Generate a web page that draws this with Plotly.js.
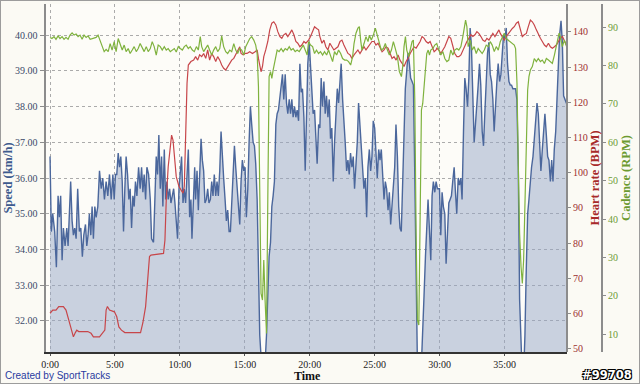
<!DOCTYPE html>
<html><head><meta charset="utf-8">
<script src="https://cdn.plot.ly/plotly-3.0.1.min.js"></script>
<style>
html,body{margin:0;padding:0;background:#fbfaf4;}
#wrap{width:640px;height:384px;box-sizing:border-box;border:1px solid #9c9c9c;background:#fbfaf4;overflow:hidden;}
#chart{width:638px;height:382px;}
</style></head>
<body><div id="wrap"><div id="chart"></div></div>
<script>
// ---- data (time in minutes) ----
const speedTime = [0.00,0.10,0.21,0.36,0.49,0.62,0.72,0.82,0.93,1.03,1.16,1.29,1.39,1.52,1.59,1.70,1.80,1.90,2.01,2.13,2.26,2.37,2.49,2.60,2.73,2.83,2.93,3.03,3.14,3.24,3.34,3.45,3.55,3.68,3.81,3.94,4.06,4.19,4.32,4.45,4.58,4.71,4.84,4.94,5.04,5.14,5.25,5.35,5.45,5.56,5.66,5.76,5.86,5.97,6.07,6.17,6.28,6.38,6.48,6.58,6.69,6.82,6.94,7.05,7.15,7.25,7.36,7.46,7.59,7.72,7.82,7.97,8.08,8.18,8.28,8.38,8.49,8.59,8.69,8.80,8.90,9.00,9.10,9.21,9.31,9.41,9.52,9.62,9.72,
9.82,9.93,10.03,10.13,10.24,10.34,10.44,10.55,10.65,10.75,10.85,10.93,11.03,11.14,11.21,11.32,11.42,11.52,11.63,11.73,11.83,11.93,12.04,12.14,12.24,12.35,12.45,12.55,12.65,12.76,12.86,12.96,13.07,13.17,13.27,13.37,13.48,13.58,13.68,13.79,13.89,13.99,14.09,14.20,14.30,14.40,14.51,14.61,14.71,14.81,14.92,15.02,15.12,15.23,15.33,15.43,15.53,15.64,15.74,15.84,15.95,16.05,16.15,16.25,16.36,16.46,16.56,16.67,16.77,16.87,16.98,17.08,17.18,17.28,17.39,17.49,17.59,17.70,17.80,17.90,18.00,18.11,18.21,18.31,18.42,18.52,18.62,18.72,18.83,18.93,19.03,19.14,19.24,19.34,19.44,19.55,19.65,19.75,
19.85,19.96,20.06,20.16,20.26,20.37,20.47,20.57,20.68,20.78,20.88,20.98,21.09,21.19,21.29,21.40,21.50,21.60,21.70,21.81,21.91,22.01,22.12,22.22,22.32,22.42,22.53,22.63,22.73,22.84,22.94,23.04,23.14,23.25,23.35,23.45,23.56,23.66,23.76,23.87,23.97,24.07,24.17,24.28,24.38,24.48,24.59,24.69,24.79,24.89,25.00,25.10,25.20,25.31,25.41,25.51,25.61,25.72,25.82,25.92,26.03,26.13,26.23,26.33,26.44,26.54,26.64,26.75,26.85,26.95,27.05,27.16,27.26,27.36,27.47,27.57,27.67,27.77,27.88,27.98,28.08,28.19,28.29,28.39,28.49,28.60,28.70,28.80,28.91,29.01,29.11,29.21,29.32,29.42,29.52,29.63,29.73,29.83,
29.99,30.09,30.19,30.29,30.40,30.50,30.60,30.71,30.81,30.91,31.01,31.12,31.22,31.32,31.43,31.53,31.63,31.73,31.84,31.94,32.04,32.15,32.25,32.35,32.45,32.56,32.66,32.76,32.87,32.97,33.07,33.17,33.28,33.38,33.48,33.59,33.69,33.79,33.90,34.00,34.10,34.20,34.31,34.41,34.51,34.62,34.72,34.82,34.92,35.03,35.13,35.23,35.34,35.44,35.54,35.64,35.75,35.85,35.95,36.06,36.16,36.26,36.36,36.47,36.57,36.67,36.78,36.88,36.98,37.08,37.19,37.29,37.39,37.50,37.60,37.70,37.80,37.91,38.01,38.11,38.22,38.32,38.42,38.53,38.63,38.73,38.83,38.94,39.04,39.14,39.24,39.35,39.45,39.55,39.66,39.76,39.86];
const speedKmh = [36.6,34.5,35.0,34.5,33.5,35.5,34.9,35.5,33.7,34.6,34.1,34.6,34.1,35.4,35.9,34.8,34.4,34.6,34.3,35.7,34.5,34.6,33.8,34.4,34.7,34.1,34.4,35.0,34.4,35.2,34.3,35.2,34.9,35.2,36.2,35.7,36.0,35.4,35.9,35.5,36.1,35.4,36.1,35.4,36.1,36.1,36.7,36.3,36.6,35.9,34.5,35.7,36.6,36.1,35.4,35.7,34.6,35.5,35.2,35.9,35.5,36.3,35.7,36.3,35.6,36.1,35.4,36.3,36.1,35.4,34.3,34.2,35.4,36.6,36.1,37.2,35.7,36.6,35.2,36.8,35.4,35.9,35.4,35.7,35.3,35.5,35.7,35.3,34.8,
34.3,35.7,36.3,36.6,35.3,35.7,35.3,36.3,36.8,34.9,35.4,34.3,35.4,36.3,35.4,36.2,35.1,36.1,37.1,36.5,36.2,35.3,35.4,35.7,35.3,35.4,35.9,35.5,36.1,35.5,35.9,35.5,36.2,37.3,36.5,36.0,35.4,34.8,35.1,34.5,34.5,35.4,36.2,36.9,36.3,35.7,35.2,34.7,35.9,36.5,36.2,36.3,34.9,35.7,37.0,38.0,37.5,37.0,36.9,36.4,35.4,33.5,31.6,31.0,30.5,30.5,30.8,31.6,32.8,33.8,34.2,35.2,35.5,35.9,37.5,37.8,37.9,38.3,38.7,38.9,38.2,38.9,38.1,37.8,38.2,37.8,38.2,37.7,38.0,37.7,37.9,37.6,39.2,38.4,38.5,37.7,36.2,38.3,
39.2,39.8,39.2,38.6,37.8,37.9,37.1,36.4,37.5,37.4,38.8,38.0,38.7,37.8,38.3,37.7,38.2,37.1,37.4,35.9,37.0,37.6,38.5,38.1,38.6,39.2,38.2,37.4,37.0,36.2,36.5,36.1,36.7,36.3,36.6,35.7,36.4,37.0,38.1,37.4,36.8,36.3,35.7,36.0,34.9,36.3,36.8,36.2,36.6,37.6,37.4,36.7,36.0,36.8,36.5,36.8,36.1,35.4,35.9,35.7,35.1,35.6,34.7,35.2,35.6,36.3,37.5,36.6,35.2,34.6,34.5,35.7,37.3,38.5,39.0,39.5,39.2,38.8,38.7,38.6,36.3,32.6,30.8,30.5,30.5,30.8,31.6,32.7,33.8,34.9,35.4,34.6,33.7,35.5,35.9,35.6,35.9,35.7,
35.7,34.4,35.6,35.2,35.0,33.6,34.4,35.3,35.4,35.5,35.9,36.3,35.6,35.0,36.0,35.8,36.0,35.4,37.3,38.8,38.5,38.0,38.8,40.2,39.7,38.5,37.0,37.5,38.0,38.6,39.2,38.6,37.3,36.9,37.8,38.6,39.5,39.8,38.9,38.7,38.2,37.3,38.3,38.7,39.2,38.7,38.9,39.5,40.0,39.9,40.2,39.2,38.7,38.6,38.6,38.5,38.5,38.5,38.2,36.3,32.6,30.8,30.5,30.5,31.6,33.4,35.0,35.4,36.0,36.3,36.6,37.1,37.6,38.1,37.8,37.1,36.2,36.8,37.2,37.8,37.2,36.6,36.5,35.9,36.5,35.9,36.8,37.3,38.2,39.1,40.0,40.4,39.8,38.3,38.2,38.1,38.1];

const hrTime = [0.00,0.21,0.46,0.67,1.03,1.23,1.44,1.65,1.80,1.95,2.06,2.21,2.91,3.16,3.34,3.81,4.01,4.22,4.32,4.42,4.58,4.96,5.14,5.30,5.50,5.76,6.97,7.15,7.36,7.51,7.66,7.77,8.44,8.74,8.85,8.95,9.10,9.26,9.36,9.47,9.57,9.72,
9.93,10.08,10.24,10.34,10.44,10.55,10.65,10.85,11.06,11.21,11.37,11.52,11.68,11.83,11.99,12.14,12.29,12.45,12.60,12.76,12.91,13.07,13.22,13.37,13.53,13.68,13.84,13.99,14.15,14.30,14.45,14.61,14.71,14.87,15.02,15.17,15.38,15.59,15.79,15.95,16.05,16.15,16.25,16.36,16.46,16.61,16.77,16.92,17.08,17.23,17.39,17.54,17.70,17.85,18.00,18.16,18.31,18.47,18.62,18.78,18.93,19.08,19.24,19.39,19.55,19.70,
19.91,20.06,20.22,20.37,20.53,20.68,20.78,20.94,21.09,21.24,21.40,21.55,21.71,21.86,22.02,22.17,22.33,22.48,22.63,22.79,22.94,23.10,23.25,23.41,23.56,23.71,23.87,24.02,24.18,24.33,24.49,24.64,24.79,24.95,25.10,25.26,25.41,25.57,25.72,25.87,26.03,26.18,26.34,26.49,26.65,26.80,26.95,27.11,27.26,27.42,27.57,27.73,27.88,28.03,28.19,28.34,28.50,28.65,28.81,28.96,29.12,29.27,29.42,29.58,29.73,
29.78,29.94,30.09,30.25,30.40,30.56,30.71,30.86,31.02,31.17,31.33,31.48,31.64,31.79,31.94,32.10,32.25,32.41,32.56,32.72,32.87,33.02,33.18,33.33,33.49,33.64,33.80,33.95,34.10,34.26,34.41,34.57,34.67,34.83,34.98,35.13,35.29,35.44,35.60,35.75,35.91,36.06,36.21,36.37,36.52,36.68,36.83,36.99,37.14,37.29,37.45,37.60,37.76,37.91,38.07,38.22,38.38,38.53,38.68,38.84,38.99,39.15,39.30,39.46,39.61,39.76];
const hrBpm = [60.1,61.0,61.0,62.0,62.0,61.0,58.2,55.3,53.4,54.6,55.3,54.9,54.9,54.4,53.4,53.4,54.4,55.3,61.0,62.0,61.0,60.5,59.1,56.2,55.3,54.6,54.6,57.4,62.0,68.6,76.2,76.6,76.8,77.1,80.9,92.3,101.7,108.4,110.7,109.3,104.6,98.9,
96.1,95.1,94.2,96.1,111.2,125.4,130.6,131.6,132.0,133.0,132.0,133.5,133.0,133.9,132.5,134.9,132.0,133.9,133.0,131.6,133.0,132.0,130.6,129.7,129.2,130.2,131.1,132.0,132.5,133.5,134.9,135.8,133.9,133.5,133.9,133.9,134.4,133.9,134.4,134.9,132.5,130.2,128.7,130.2,133.0,134.9,137.3,140.6,142.5,142.9,142.0,140.1,138.7,138.2,139.2,139.6,138.7,139.6,140.6,139.2,137.3,136.8,135.8,136.3,137.3,136.8,
137.7,138.7,140.1,141.5,141.0,140.6,138.7,136.8,137.7,135.8,134.9,136.8,135.8,134.9,135.4,135.8,137.3,137.7,136.3,134.9,133.9,133.5,132.5,133.5,134.4,134.9,133.9,134.9,135.8,134.9,135.8,136.8,137.3,137.3,136.3,136.8,135.4,134.4,134.9,135.8,135.4,133.9,132.5,133.0,132.0,133.5,132.0,131.1,130.2,131.6,132.5,133.9,134.9,135.8,135.4,136.3,137.3,138.7,138.2,137.3,136.8,137.3,135.8,134.4,134.9,
135.4,134.9,133.9,134.9,135.8,137.3,138.7,138.2,136.3,133.9,133.0,133.0,133.5,134.9,135.8,137.3,138.2,139.2,138.7,139.2,140.1,139.6,138.7,137.7,137.3,138.2,137.7,138.7,139.6,138.7,139.6,140.6,139.6,138.7,137.7,138.7,139.6,140.1,141.0,141.5,142.5,142.9,140.6,138.7,139.2,139.6,141.5,143.4,142.9,142.0,140.6,139.2,138.2,137.3,136.3,135.8,136.8,135.8,135.4,135.8,136.3,137.3,138.2,138.7,137.7,136.3];

const cadTime = [0.00,0.15,0.31,0.46,0.62,0.77,0.93,1.08,1.23,1.39,1.54,1.70,1.85,2.01,2.16,2.31,2.47,2.62,2.78,2.93,3.09,3.24,3.40,3.55,3.70,3.86,4.01,4.17,4.32,4.48,4.63,4.78,4.94,5.09,5.25,5.40,5.56,5.71,5.86,6.02,6.17,6.33,6.48,6.64,6.79,6.94,7.10,7.25,7.41,7.56,7.72,7.87,8.02,8.18,8.33,8.49,8.64,8.80,8.95,9.10,9.26,9.41,9.57,9.72,
9.88,10.03,10.19,10.34,10.49,10.65,10.80,10.96,11.11,11.27,11.42,11.57,11.68,11.83,11.99,12.14,12.29,12.45,12.60,12.76,12.91,13.07,13.22,13.37,13.53,13.68,13.84,13.99,14.15,14.30,14.45,14.61,14.76,14.92,15.07,15.23,15.38,15.53,15.69,15.84,15.95,16.05,16.15,16.25,16.36,16.46,16.56,16.67,16.77,16.87,16.98,17.08,17.18,17.28,17.39,17.49,17.64,17.80,17.95,18.11,18.26,18.42,18.57,18.72,18.88,19.03,19.19,19.34,19.50,19.65,19.80,
19.91,20.06,20.22,20.37,20.52,20.68,20.83,20.99,21.14,21.30,21.45,21.60,21.76,21.91,22.07,22.22,22.38,22.53,22.69,22.84,22.99,23.15,23.30,23.41,23.56,23.71,23.82,23.92,24.02,24.18,24.33,24.49,24.59,24.74,24.90,25.05,25.21,25.36,25.51,25.67,25.82,25.98,26.13,26.29,26.44,26.59,26.75,26.90,27.06,27.16,27.26,27.37,27.47,27.62,27.78,27.88,27.98,28.09,28.19,28.29,28.40,28.50,28.60,28.70,28.81,28.91,29.01,29.12,29.22,29.32,29.48,29.63,29.78,
29.94,30.09,30.25,30.40,30.56,30.71,30.86,31.02,31.17,31.33,31.48,31.64,31.79,31.89,32.00,32.10,32.20,32.36,32.51,32.66,32.82,32.97,33.13,33.28,33.44,33.59,33.75,33.90,34.05,34.21,34.36,34.52,34.67,34.83,34.98,35.13,35.29,35.44,35.60,35.75,35.85,35.96,36.06,36.16,36.27,36.37,36.47,36.57,36.68,36.78,36.88,36.99,37.14,37.29,37.45,37.60,37.76,37.91,38.07,38.22,38.38,38.53,38.68,38.84,38.99,39.09,39.20,39.30,39.45,39.61,39.76,39.87];
const cadRpm = [87.3,87.0,87.5,86.8,87.7,87.0,87.5,86.8,87.3,86.8,87.9,88.5,87.9,88.2,87.5,87.9,86.8,87.9,87.3,87.7,86.8,87.0,87.3,87.3,87.9,86.6,84.9,83.6,84.2,83.6,85.7,84.0,86.2,83.6,87.0,85.7,84.0,85.3,83.6,84.4,83.1,84.0,84.9,83.6,84.4,85.7,84.4,83.6,84.9,83.6,84.4,86.2,84.9,82.7,85.3,84.9,84.0,84.9,84.0,84.4,83.6,84.0,84.4,83.5,
84.9,84.4,84.0,84.9,85.3,84.4,84.9,84.0,83.6,84.9,84.0,87.5,84.9,83.6,84.4,85.3,84.0,82.7,84.0,84.9,83.6,84.4,87.7,84.9,83.6,83.1,84.0,83.6,85.7,84.0,83.1,84.4,84.0,82.7,84.9,86.2,87.0,87.5,86.6,85.3,83.1,74.5,45.0,20.6,18.9,29.3,18.9,10.2,45.0,77.1,78.4,76.6,78.8,80.5,83.1,84.0,83.6,84.4,83.6,84.4,84.0,84.9,84.0,84.4,83.6,84.0,83.6,84.4,85.3,84.0,82.7,
86.2,85.3,84.9,83.1,84.0,83.1,83.6,82.7,83.6,82.7,84.0,82.7,81.0,83.6,82.7,84.0,83.1,81.8,81.4,81.4,81.0,80.1,82.3,85.7,88.4,89.7,90.1,86.6,84.0,85.7,87.5,86.2,87.9,86.6,87.9,89.7,87.5,85.7,84.0,84.4,85.7,84.0,82.7,84.0,86.2,84.4,82.3,78.4,77.1,79.7,84.9,87.5,84.0,82.3,84.9,86.2,86.6,71.0,36.3,13.7,12.4,36.3,68.4,70.1,75.3,80.5,83.1,84.0,82.7,84.0,84.4,85.3,85.7,
84.0,82.7,83.6,81.8,81.0,81.4,84.0,82.7,84.0,84.4,84.0,84.9,87.5,90.1,91.8,90.1,84.9,86.6,84.0,84.9,83.1,84.4,83.6,83.1,84.0,85.3,84.9,86.2,85.3,83.6,84.9,84.0,86.2,87.5,88.4,87.0,86.6,86.2,85.7,85.3,84.4,75.3,53.6,36.3,27.6,23.2,29.3,45.0,62.3,73.6,77.1,78.8,79.7,81.8,81.0,81.8,81.0,81.4,80.5,81.8,81.4,81.0,80.5,82.7,84.9,86.6,88.4,87.5,84.9,86.6,84.9,84.0];

const timeTicks = [0,5,10,15,20,25,30,35];
const timeLabels = ['0:00','5:00','10:00','15:00','20:00','25:00','30:00','35:00'];
const speedTicks = [32,33,34,35,36,37,38,39,40];
const hrTicks = [50,60,70,80,90,100,110,120,130,140];
const cadTicks = [10,20,30,40,50,60,70,80,90];

// ---- layout geometry ----
const W = 638, H = 382;
const M = {l:45, r:37, t:3, b:31};
const plotW = W - M.l - M.r, plotH = H - M.t - M.b;
const xEnd = 521 / plotW;
const px = x => (x - M.l) / plotW;
const py = y => (H - M.b - y) / plotH;
const serif = 'Liberation Serif, Times New Roman, serif';
const grid = '#ababab';

const traces = [
  {x: speedTime, y: speedKmh, type:'scatter', mode:'lines', fill:'tozeroy',
   fillcolor:'rgba(150,166,198,0.5)', line:{color:'#4b679c', width:1.4}, yaxis:'y', hoverinfo:'skip'},
  {x: hrTime, y: hrBpm, type:'scatter', mode:'lines',
   line:{color:'#c7464a', width:1.2}, yaxis:'y2', hoverinfo:'skip'},
  {x: cadTime, y: cadRpm, type:'scatter', mode:'lines',
   line:{color:'#7fb23e', width:1.2}, yaxis:'y3', hoverinfo:'skip'}
];

const layout = {
  width: W, height: H, margin: M,
  paper_bgcolor:'#fbfaf4', plot_bgcolor:'#fdfcf8',
  showlegend:false, hovermode:false,
  xaxis: {domain:[0, xEnd], range:[-0.31, 39.81], tickmode:'array', tickvals: timeTicks, ticktext: timeLabels,
    showgrid:true, gridcolor:grid, griddash:'dot', gridwidth:1, zeroline:false,
    showline:true, linecolor:'#333', linewidth:1.5, ticks:'outside', ticklen:2, tickcolor:'#555',
    tickfont:{family:serif, size:10, color:'#222'}},
  yaxis: {range:[31.13, 40.87], tickmode:'array', tickvals: speedTicks, tickformat:'.2f',
    showgrid:true, gridcolor:grid, griddash:'dot', gridwidth:1, zeroline:false,
    showline:true, linecolor:'#8c8c8c', linewidth:2.5, ticks:'outside', ticklen:4, tickcolor:'#8c8c8c',
    tickfont:{family:serif, size:10, color:'#3a4868'},
    title:{text:'Speed (km/h)', font:{family:serif, size:12.5, color:'#3d5a8e', weight:'bold'}, standoff:2}},
  yaxis2: {overlaying:'y', side:'right', anchor:'free', position:xEnd, range:[49.09, 147.95],
    tickmode:'array', tickvals: hrTicks, showgrid:false, zeroline:false,
    showline:true, linecolor:'#8c8c8c', linewidth:2, ticks:'outside', ticklen:3, tickcolor:'#8c8c8c',
    tickfont:{family:serif, size:10, color:'#9c2f2f'},
    title:{text:'Heart rate (BPM)', font:{family:serif, size:12.5, color:'#a82a2a', weight:'bold'}, standoff:2}},
  yaxis3: {overlaying:'y', side:'right', anchor:'free', position:1, range:[5.36, 96.0],
    tickmode:'array', tickvals: cadTicks, showgrid:false, zeroline:false,
    showline:true, linecolor:'#8c8c8c', linewidth:2, ticks:'outside', ticklen:3, tickcolor:'#8c8c8c',
    tickfont:{family:serif, size:10, color:'#6c9a34'},
    title:{text:'Cadence (RPM)', font:{family:serif, size:12.5, color:'#6c9a30', weight:'bold'}, standoff:3}},
  annotations: [
    {text:'Time', xref:'paper', yref:'paper', x:px(306), y:py(375), xanchor:'center', yanchor:'middle', borderpad:0,
     showarrow:false, font:{family:serif, size:12, color:'#111', weight:'bold'}},
    {text:'Created by SportTracks', xref:'paper', yref:'paper', x:px(2), y:py(375), xanchor:'left', yanchor:'middle',
     showarrow:false, font:{family:'Liberation Sans, Arial, sans-serif', size:10, color:'#2a3aa0'}},
    {text:'#99708', xref:'paper', yref:'paper', x:px(633), y:py(374), xanchor:'right', yanchor:'middle',
     showarrow:false, font:{family:'DejaVu Sans, sans-serif', size:11.5, color:'#ffffff', weight:'bold',
     shadow:'-1px -1px 0 #000, 1px -1px 0 #000, -1px 1px 0 #000, 1px 1px 0 #000'}}
  ]
};

Plotly.newPlot('chart', traces, layout, {displayModeBar:false, staticPlot:true});
</script></body></html>
